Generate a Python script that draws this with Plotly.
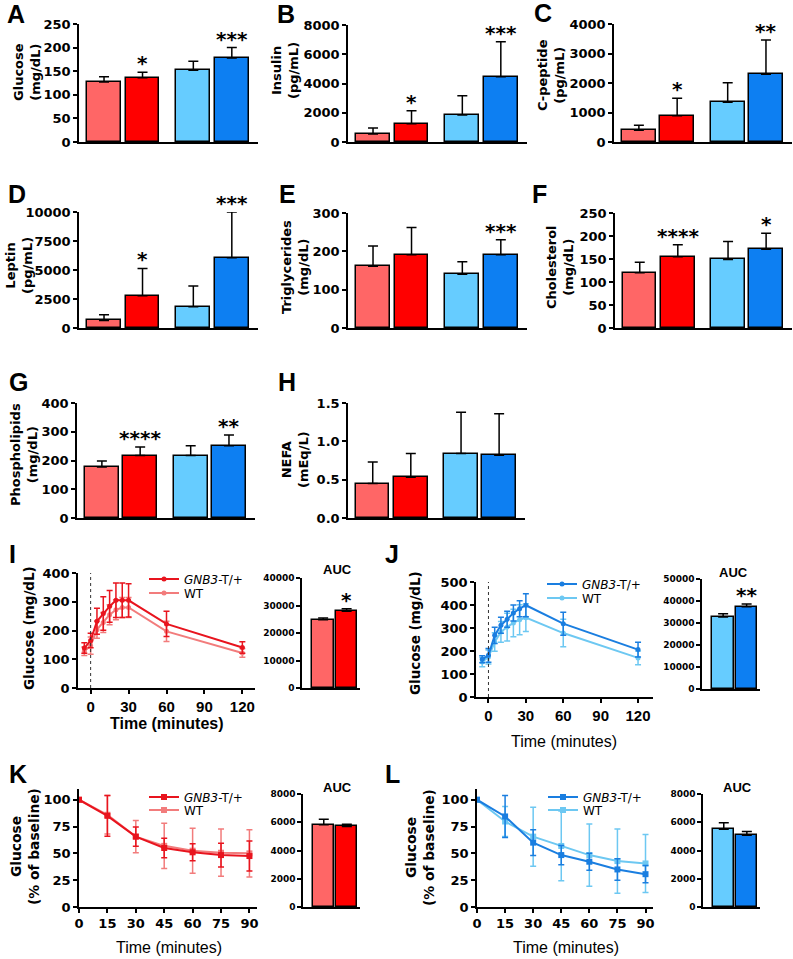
import plotly.graph_objects as go

W, H = 793, 959

# ---------------- data ----------------
groups = ["WT (red)", "GNB3-T/+ (red)", "WT (blue)", "GNB3-T/+ (blue)"]
bar_x = [1, 2, 3.32, 4.32]

glucose_mean = [127, 136, 152, 178]
glucose_err = [11, 12, 19, 22]
glucose_sig = ["", "*", "", "***"]

insulin_mean = [545, 1250, 1840, 4470]
insulin_err = [410, 890, 1320, 2380]
insulin_sig = ["", "*", "", "***"]

cpep_mean = [400, 890, 1350, 2300]
cpep_err = [170, 590, 660, 1160]
cpep_sig = ["", "*", "", "**"]

leptin_mean = [650, 2770, 1830, 6060]
leptin_err = [500, 2370, 1800, 3940]
leptin_sig = ["", "*", "", "***"]

tg_mean = [161, 191, 140, 191]
tg_err = [53, 71, 33, 39]
tg_sig = ["", "", "", "***"]

chol_mean = [120, 155, 149, 171]
chol_err = [23, 26, 39, 35]
chol_sig = ["", "****", "", "*"]

pl_mean = [177, 217, 217, 251]
pl_err = [21, 30, 34, 38]
pl_sig = ["", "****", "", "**"]

nefa_mean = [0.45, 0.53, 0.84, 0.82]
nefa_err = [0.28, 0.31, 0.54, 0.54]
nefa_sig = ["", "", "", ""]

gtt_time = [-5, 0, 5, 10, 15, 20, 25, 30, 60, 120]
I_tg = [139, 165, 232, 259, 284, 305, 305, 305, 223, 141]
I_tg_err = [18, 25, 45, 58, 55, 60, 60, 58, 44, 20]
I_wt = [128, 147, 203, 228, 255, 272, 280, 280, 197, 122]
I_wt_err = [15, 30, 30, 35, 35, 35, 35, 35, 35, 15]

J_tg = [164, 181, 268, 312, 338, 365, 384, 399, 319, 206]
J_tg_err = [15, 30, 35, 35, 35, 35, 35, 50, 50, 32]
J_wt = [152, 174, 239, 283, 304, 322, 336, 345, 278, 170]
J_wt_err = [20, 30, 40, 45, 60, 60, 65, 60, 60, 30]

itt_time = [0, 15, 30, 45, 60, 75, 90]
K_tg = [100, 85, 65.6, 55, 51, 48.4, 47.5]
K_tg_err = [0, 19, 9, 9, 8, 11, 14]
K_wt = [100, 86, 65.6, 57, 52.5, 50.6, 50]
K_wt_err = [0, 18, 15, 21, 21, 22, 22]

L_tg = [100, 84.4, 60, 48.4, 42.2, 35, 30.6]
L_tg_err = [0, 19.5, 12, 9, 8, 10, 8]
L_wt = [100, 79.7, 65.6, 56.9, 48.4, 42.8, 40.6]
L_wt_err = [0, 14, 27.5, 32.5, 29, 30, 27]

auc_x = [1, 2]
I_auc = [24850, 27880]
I_auc_err = [600, 900]
I_auc_sig = ["", "*"]
J_auc = [32700, 37400]
J_auc_err = [1500, 1200]
J_auc_sig = ["", "**"]
K_auc = [5820, 5700]
K_auc_err = [400, 150]
K_auc_sig = ["", ""]
L_auc = [5500, 5080]
L_auc_err = [470, 260]
L_auc_sig = ["", ""]

# ---------------- styles ----------------
C_WT_R, C_TG_R = "#FF6666", "#FF0000"
C_WT_B, C_TG_B = "#66CCFF", "#0D7FF2"
L_TG_R, L_WT_R = "#E8141E", "#F27C7C"
L_TG_B, L_WT_B = "#1A7EE0", "#6DC8F2"

BOLD_DV = dict(family="DejaVu Sans", weight="bold", color="black")
BOLD_LS = dict(family="Liberation Sans, Arial", weight="bold", color="black")

fig = go.Figure()
layout = dict(width=W, height=H, margin=dict(l=0, r=0, t=0, b=0, autoexpand=False),
              autosize=False, plot_bgcolor="white", paper_bgcolor="white", showlegend=True,
              bargap=0)
annotations = []
shapes = []


def xd(a, b):
    return [a / W, b / W]


def yd(top, bottom):
    return [1 - bottom / H, 1 - top / H]


def axname(k, letter):
    return letter if k == 1 else f"{letter}{k}"


def add_axes(k, xpx, ypx, xrange, yrange, ytickvals, ytickfont, xtickvals=None, xtickfont=None,
             yfmt="d"):
    common = dict(showline=True, linecolor="black", linewidth=1.5, showgrid=False,
                  zeroline=False, fixedrange=True, tickcolor="black", tickwidth=1.5, ticklen=4,
                  automargin=False)
    xa = dict(common, domain=xd(*xpx), range=xrange, anchor=axname(k, "y"))
    if xtickvals is None:
        xa.update(ticks="", showticklabels=False)
    else:
        xa.update(ticks="outside", tickvals=xtickvals, tickfont=xtickfont, tickformat="d")
    ya = dict(common, domain=yd(*ypx), range=yrange, anchor=axname(k, "x"),
              ticks="outside", tickvals=ytickvals, tickfont=ytickfont, tickformat=yfmt)
    layout["xaxis" if k == 1 else f"xaxis{k}"] = xa
    layout["yaxis" if k == 1 else f"yaxis{k}"] = ya


def ann(text, x, y, size, font, angle=0, xanchor="center", yanchor="middle", xref="paper",
        yref="paper", yshift=0):
    if xref == "paper":
        x = x / W
    if yref == "paper":
        y = 1 - y / H
    annotations.append(dict(text=text, x=x, y=y, xref=xref, yref=yref, showarrow=False,
                            textangle=angle, xanchor=xanchor, yanchor=yanchor, yshift=yshift,
                            font=dict(font, size=size)))


def bar_panel(k, xs, means, errs, sigs, colors, width, star_size=20):
    fig.add_trace(go.Bar(
        x=xs, y=means, width=width,
        marker=dict(color=colors, line=dict(color="black", width=1.5)),
        error_y=dict(type="data", array=errs, arrayminus=[0] * len(errs), symmetric=False,
                     color="black", thickness=1.5, width=5),
        xaxis=axname(k, "x"), yaxis=axname(k, "y"), showlegend=False, hoverinfo="y"))
    for xv, m, e, s in zip(xs, means, errs, sigs):
        if s:
            ann(s, xv, m + e, star_size, BOLD_DV, xref=axname(k, "x"), yref=axname(k, "y"),
                yanchor="bottom", yshift=-5)


bar_colors = [C_WT_R, C_TG_R, C_WT_B, C_TG_B]
TF = dict(BOLD_DV, size=13)

# ---- row 1-3 bar panels ----
bar_specs = [
    (1, glucose_mean, glucose_err, glucose_sig, (79, 258), (24, 142), [0, 250], [0, 50, 100, 150, 200, 250], "d"),
    (2, insulin_mean, insulin_err, insulin_sig, (348, 527), (25, 142), [0, 8000], [0, 2000, 4000, 6000, 8000], "d"),
    (3, cpep_mean, cpep_err, cpep_sig, (614, 792), (24, 142), [0, 4000], [0, 1000, 2000, 3000, 4000], "d"),
    (4, leptin_mean, leptin_err, leptin_sig, (79, 258), (212, 328), [0, 10000], [0, 2500, 5000, 7500, 10000], "d"),
    (5, tg_mean, tg_err, tg_sig, (348, 527), (213, 328), [0, 300], [0, 100, 200, 300], "d"),
    (6, chol_mean, chol_err, chol_sig, (615, 792), (213, 328), [0, 250], [0, 50, 100, 150, 200, 250], "d"),
    (7, pl_mean, pl_err, pl_sig, (77, 255), (403, 518), [0, 400], [0, 100, 200, 300, 400], "d"),
    (8, nefa_mean, nefa_err, nefa_sig, (348, 525), (403, 518), [0, 1.5], [0, 0.5, 1.0, 1.5], ".1f"),
]
for k, m, e, s, xpx, ypx, yr, tv, fmt in bar_specs:
    add_axes(k, xpx, ypx, [0.35, 5.0], yr, tv, TF, yfmt=fmt)
    bar_panel(k, bar_x, m, e, s, bar_colors, 0.88)

# ---- line panels ----
legend_count = [0]


def new_legend(xpx, ypx):
    legend_count[0] += 1
    n = legend_count[0]
    key = "legend" if n == 1 else f"legend{n}"
    layout[key] = dict(x=xpx / W, y=1 - ypx / H, xanchor="left", yanchor="middle",
                       bgcolor="rgba(0,0,0,0)", borderwidth=0, itemwidth=30,
                       font=dict(family="DejaVu Sans", size=12, color="black"),
                       tracegroupgap=0)
    return key


def line_panel(k, t, tg, tg_err, wt, wt_err, c_tg, c_wt, symbol, msize, leg_x, leg_y1, leg_y2):
    lg_tg = new_legend(leg_x, leg_y1)
    lg_wt = new_legend(leg_x, leg_y2)
    fig.add_trace(go.Scatter(
        x=t, y=wt, mode="lines+markers", name="WT", legend=lg_wt,
        line=dict(color=c_wt, width=2), marker=dict(symbol=symbol, size=msize, color=c_wt),
        error_y=dict(type="data", array=wt_err, color=c_wt, thickness=1.5, width=3),
        xaxis=axname(k, "x"), yaxis=axname(k, "y")))
    fig.add_trace(go.Scatter(
        x=t, y=tg, mode="lines+markers", name="<i>GNB3</i>-T/+", legend=lg_tg,
        line=dict(color=c_tg, width=2), marker=dict(symbol=symbol, size=msize, color=c_tg),
        error_y=dict(type="data", array=tg_err, color=c_tg, thickness=1.5, width=3),
        xaxis=axname(k, "x"), yaxis=axname(k, "y")))


XTF = dict(BOLD_LS, size=15)
AUCF = dict(BOLD_DV, size=9)

# I
add_axes(9, (78, 255), (573, 688), [-10, 130], [0, 400], [0, 100, 200, 300, 400], TF,
         [0, 30, 60, 90, 120], XTF)
line_panel(9, gtt_time, I_tg, I_tg_err, I_wt, I_wt_err, L_TG_R, L_WT_R, "circle", 5, 144, 579, 593)
shapes.append(dict(type="line", xref="x9", yref="y9 domain", x0=0, x1=0, y0=0, y1=1,
                   line=dict(color="#333333", width=1, dash="dot")))
add_axes(10, (302, 360), (578, 688), [0.1, 2.57], [0, 40000], [0, 10000, 20000, 30000, 40000], AUCF)
bar_panel(10, auc_x, I_auc, I_auc_err, I_auc_sig, [C_WT_R, C_TG_R], 0.92)

# J
add_axes(11, (476, 653), (582, 697), [-10, 132], [0, 500], [0, 100, 200, 300, 400, 500], TF,
         [0, 30, 60, 90, 120], XTF)
line_panel(11, gtt_time, J_tg, J_tg_err, J_wt, J_wt_err, L_TG_B, L_WT_B, "circle", 5, 542, 584, 598)
shapes.append(dict(type="line", xref="x11", yref="y11 domain", x0=0, x1=0, y0=0, y1=1,
                   line=dict(color="#333333", width=1, dash="dot")))
add_axes(12, (702, 760), (579, 689), [0.1, 2.57], [0, 50000], [0, 10000, 20000, 30000, 40000, 50000], AUCF)
bar_panel(12, auc_x, J_auc, J_auc_err, J_auc_sig, [C_WT_B, C_TG_B], 0.92)

# K
add_axes(13, (79, 257), (789, 907), [0, 94], [0, 110], [0, 25, 50, 75, 100], TF,
         [0, 15, 30, 45, 60, 75, 90], TF)
line_panel(13, itt_time, K_tg, K_tg_err, K_wt, K_wt_err, L_TG_R, L_WT_R, "square", 6, 144, 797, 810)
add_axes(14, (303, 360), (794, 907), [0.1, 2.57], [0, 8000], [0, 2000, 4000, 6000, 8000], AUCF)
bar_panel(14, auc_x, K_auc, K_auc_err, K_auc_sig, [C_WT_R, C_TG_R], 0.92)

# L
add_axes(15, (477, 653), (789, 907), [0, 94], [0, 110], [0, 25, 50, 75, 100], TF,
         [0, 15, 30, 45, 60, 75, 90], TF)
line_panel(15, itt_time, L_tg, L_tg_err, L_wt, L_wt_err, L_TG_B, L_WT_B, "square", 6, 543, 797, 810)
add_axes(16, (703, 760), (794, 907), [0.1, 2.57], [0, 8000], [0, 2000, 4000, 6000, 8000], AUCF)
bar_panel(16, auc_x, L_auc, L_auc_err, L_auc_sig, [C_WT_B, C_TG_B], 0.92)

# ---------------- text ----------------
YT = dict(BOLD_DV)
ann("Glucose<br>(mg/dL)", 27, 72, 13, YT, angle=-90)
ann("Insulin<br>(pg/mL)", 285, 71, 13, YT, angle=-90)
ann("C-peptide<br>(pg/mL)", 551, 75, 13, YT, angle=-90)
ann("Leptin<br>(pg/mL)", 19, 266, 13, YT, angle=-90)
ann("Triglycerides<br>(mg/dL)", 295, 267, 13, YT, angle=-90)
ann("Cholesterol<br>(mg/dL)", 560, 267, 13, YT, angle=-90)
ann("Phospholipids<br>(mg/dL)", 24, 455, 13, YT, angle=-90)
ann("NEFA<br>(mEq/L)", 295, 460, 13, YT, angle=-90)
ann("Glucose (mg/dL)", 29, 628, 13.5, YT, angle=-90)
ann("Glucose (mg/dL)", 415, 633, 13.5, YT, angle=-90)
ann("Glucose<br>(% of baseline)", 25, 847, 13.8, YT, angle=-90)
ann("Glucose<br>(% of baseline)", 420, 847, 13.8, YT, angle=-90)

ann("Time (minutes)", 167, 723, 16, BOLD_LS)
REG = dict(family="Liberation Sans, Arial", color="black")
ann("Time (minutes)", 564, 741, 16, REG)
ann("Time (minutes)", 169, 947, 16, REG)
ann("Time (minutes)", 566, 947, 16, REG)

for cx, cy in [(337, 569), (733, 572), (337, 787), (737, 787)]:
    ann("AUC", cx, cy, 13, BOLD_LS)

for letter, cx, cy in [("A", 16, 14), ("B", 286, 14), ("C", 543, 13), ("D", 17, 194), ("E", 287, 194),
                       ("F", 539, 194), ("G", 18, 382), ("H", 287, 382), ("I", 12, 554),
                       ("J", 392, 554), ("K", 18, 774), ("L", 392, 774)]:
    ann(letter, cx, cy, 25, BOLD_LS)

layout["annotations"] = annotations
layout["shapes"] = shapes
fig.update_layout(**layout)
fig.write_html("out.html", config={"displayModeBar": False},
               post_script="document.body.style.margin='0';document.body.style.overflow='hidden';")
